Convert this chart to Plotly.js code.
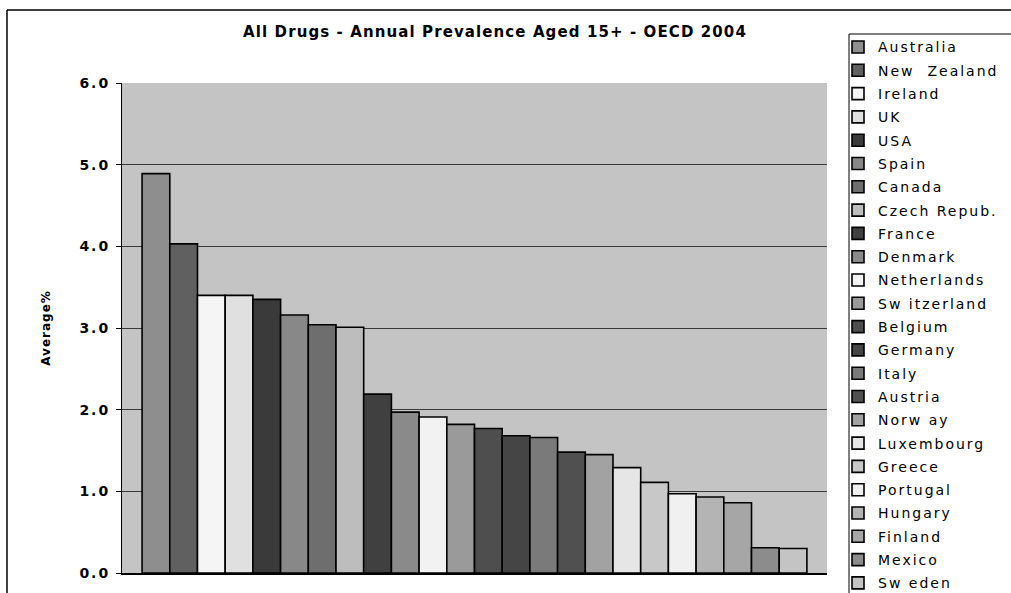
<!DOCTYPE html>
<html>
<head>
<meta charset="utf-8">
<script src="https://cdn.plot.ly/plotly-3.0.1.min.js"></script>
<style>
html,body{margin:0;padding:0;background:#fff;}
#chart{width:1011px;height:593px;}
.legendtext{letter-spacing:2px;}
.ytick text{letter-spacing:2px;}
.gtitle{letter-spacing:1.1px;}
.ytitle{letter-spacing:1px;}
</style>
</head>
<body>
<div id="chart"></div>
<script>
// Data
var countries = ["Australia","New  Zealand","Ireland","UK","USA","Spain","Canada","Czech Repub.","France","Denmark","Netherlands","Sw itzerland","Belgium","Germany","Italy","Austria","Norw ay","Luxembourg","Greece","Portugal","Hungary","Finland","Mexico","Sw eden"];
var prevalence = [4.89, 4.03, 3.40, 3.40, 3.35, 3.16, 3.04, 3.01, 2.19, 1.97, 1.91, 1.82, 1.77, 1.68, 1.66, 1.48, 1.45, 1.29, 1.11, 0.97, 0.93, 0.86, 0.31, 0.30];
var yTickValues = [0, 1, 2, 3, 4, 5, 6];
var yTickLabels = ["0.0", "1.0", "2.0", "3.0", "4.0", "5.0", "6.0"];

// Styling
var barColors = ["#8e8e8e","#606060","#f5f5f5","#e0e0e0","#3a3a3a","#888888","#6e6e6e","#bdbdbd","#404040","#8a8a8a","#f2f2f2","#9a9a9a","#4e4e4e","#454545","#7a7a7a","#505050","#a2a2a2","#e6e6e6","#c8c8c8","#f0f0f0","#b4b4b4","#a6a6a6","#8c8c8c","#c4c4c4"];

var traces = countries.map(function(c, i){
  return {
    type: 'bar',
    name: c,
    legendgroup: 'g' + i,
    x: [0],
    y: [prevalence[i]],
    marker: {color: barColors[i], line: {color: '#000', width: 1.6}},
    hoverinfo: 'name+y'
  };
});

function px2x(p){ return (p - 122) / 705; }
function py2y(p){ return (573 - p) / 490; }

var layout = {
  width: 1011, height: 593,
  margin: {l: 122, r: 184, t: 83, b: 20, pad: 0, autoexpand: false},
  paper_bgcolor: '#ffffff',
  plot_bgcolor: '#c4c4c4',
  barmode: 'group',
  bargap: 0.057,
  bargroupgap: 0,
  showlegend: true,
  title: {
    text: 'All Drugs - Annual Prevalence Aged 15+ - OECD 2004',
    font: {family: 'DejaVu Sans', size: 15, color: '#000', weight: 'bold'},
    xref: 'paper', x: px2x(495), xanchor: 'center',
    yref: 'container', y: 1 - 32/593, yanchor: 'middle'
  },
  xaxis: {
    range: [-0.5, 0.5],
    showticklabels: false,
    ticks: '',
    showgrid: false,
    zeroline: false,
    showline: true, linecolor: '#000', linewidth: 1.5,
    fixedrange: true
  },
  yaxis: {
    range: [0, 6],
    tickvals: yTickValues,
    ticktext: yTickLabels,
    ticks: 'outside', ticklen: 5, tickcolor: '#000', tickwidth: 1,
    ticklabelstandoff: 3,
    tickfont: {family: 'DejaVu Sans', size: 14, color: '#000', weight: 'bold'},
    showgrid: true, gridcolor: '#3a3a3a', gridwidth: 1,
    zeroline: false,
    showline: true, linecolor: '#000', linewidth: 1,
    title: {text: 'Average%', standoff: 26, font: {family: 'DejaVu Sans', size: 12, color: '#000', weight: 'bold'}},
    fixedrange: true
  },
  legend: {
    x: px2x(838), xanchor: 'left',
    y: py2y(31.4), yanchor: 'top',
    maxheight: 600,
    bgcolor: 'rgba(0,0,0,0)',
    borderwidth: 0,
    traceorder: 'grouped',
    tracegroupgap: 2.1,
    font: {family: 'DejaVu Sans', size: 14, color: '#000'}
  },
  shapes: [
    {type: 'line', xref: 'paper', yref: 'paper', x0: px2x(7), x1: px2x(1011), y0: py2y(10), y1: py2y(10), line: {color: '#000', width: 1.5}},
    {type: 'line', xref: 'paper', yref: 'paper', x0: px2x(7), x1: px2x(7), y0: py2y(10), y1: py2y(593), line: {color: '#000', width: 1.5}},
    {type: 'line', xref: 'paper', yref: 'paper', x0: px2x(849), x1: px2x(1011), y0: py2y(34), y1: py2y(34), line: {color: '#000', width: 1}},
    {type: 'line', xref: 'paper', yref: 'paper', x0: px2x(849), x1: px2x(849), y0: py2y(34), y1: py2y(593), line: {color: '#000', width: 1}}
  ]
};

Plotly.newPlot('chart', traces, layout, {displayModeBar: false, staticPlot: true});
</script>
</body>
</html>
